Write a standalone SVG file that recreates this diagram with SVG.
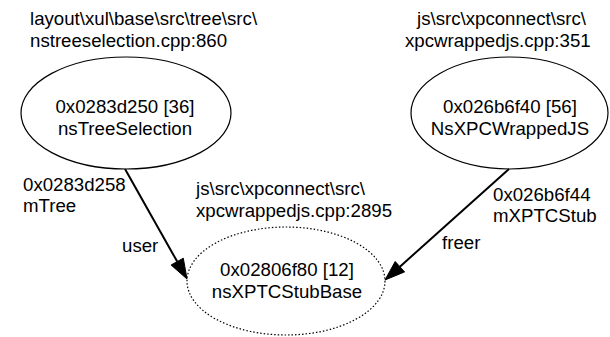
<svg xmlns="http://www.w3.org/2000/svg" width="610" height="337" viewBox="0 0 610 337">
<style>
text{font-family:"Liberation Sans",Arial,sans-serif;font-size:18.67px;fill:#000}
.c{text-anchor:middle}
.n{fill:none;stroke:#000;stroke-width:1.2}
.d{fill:none;stroke:#000;stroke-width:1.2;stroke-dasharray:1.5,2}
.e{stroke:#000;stroke-width:2;fill:none}
.h{fill:#000;stroke:#000;stroke-width:1}
</style>
<rect width="610" height="337" fill="#fff"/>
<g id="node-tree">
<text x="30" y="25">layout\xul\base\src\tree\src\</text>
<text x="30" y="47">nstreeselection.cpp:860</text>
<ellipse class="n" cx="126" cy="113" rx="105" ry="56"/>
<text class="c" x="125" y="113">0x0283d250 [36]</text>
<text class="c" x="125" y="135">nsTreeSelection</text>
</g>
<g id="node-wrapped">
<text x="417" y="25">js\src\xpconnect\src\</text>
<text x="405" y="47">xpcwrappedjs.cpp:351</text>
<ellipse class="n" cx="509.5" cy="113" rx="98.5" ry="56"/>
<text class="c" x="510" y="113">0x026b6f40 [56]</text>
<text class="c" x="510" y="135">NsXPCWrappedJS</text>
</g>
<g id="node-stub">
<text x="196" y="195">js\src\xpconnect\src\</text>
<text x="196" y="217">xpcwrappedjs.cpp:2895</text>
<ellipse class="d" cx="286" cy="281" rx="99" ry="54"/>
<text class="c" x="287" y="276">0x02806f80 [12]</text>
<text class="c" x="287" y="298">nsXPTCStubBase</text>
</g>
<g id="connectors">
<line class="e" x1="125" y1="169" x2="177.2" y2="261.6"/>
<polygon class="h" points="187,279 171.1,265 183.3,258.2"/>
<text x="23" y="191">0x0283d258</text>
<text x="23" y="212">mTree</text>
<text x="122" y="252">user</text>
<line class="e" x1="509" y1="169" x2="399.9" y2="266.7"/>
<polygon class="h" points="385,280 395.2,261.5 404.6,271.9"/>
<text x="493" y="201">0x026b6f44</text>
<text x="493" y="222">mXPTCStub</text>
<text x="442" y="249">freer</text>
</g>
</svg>
